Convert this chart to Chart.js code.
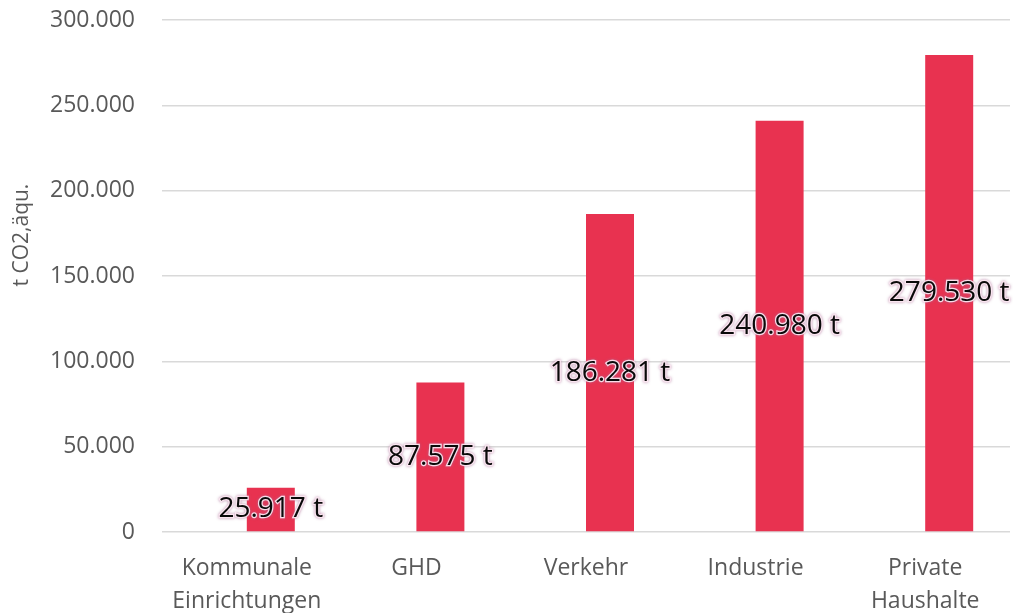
<!DOCTYPE html>
<html>
<head>
<meta charset="utf-8">
<script src="https://cdn.jsdelivr.net/npm/chart.js@4/dist/chart.umd.min.js"></script>
<style>
  html, body { margin: 0; padding: 0; background: #fff; }
  #wrap { width: 1013px; height: 613px; }
</style>
</head>
<body>
<div id="wrap"><canvas id="chart"></canvas></div>
<script>
const categories = [["Kommunale", "Einrichtungen"], "GHD", "Verkehr", "Industrie", ["Private", "Haushalte"]];
const emissions  = [25917, 87575, 186281, 240980, 279530];
// the original has an empty first series, so the bars sit right of each category centre
const emptySeries = [null, null, null, null, null];
const yTicks     = [0, 50000, 100000, 150000, 200000, 250000, 300000];
const yTitle     = "t CO2,äqu.";

const fmt = v => String(v).replace(/\B(?=(\d{3})+(?!\d))/g, ".");

const fontFam   = "'Open Sans', sans-serif";
const tickColor = "#595959";

// value labels in the middle of each bar, black with a soft halo
const valueLabels = {
  id: "valueLabels",
  afterDatasetsDraw(chart) {
    const { ctx } = chart;
    const meta = chart.getDatasetMeta(1);
    ctx.save();
    ctx.font = "28px " + fontFam;
    ctx.textAlign = "center";
    ctx.textBaseline = "middle";
    meta.data.forEach((bar, i) => {
      const txt = fmt(emissions[i]) + " t";
      const y = (bar.y + bar.base) / 2;
      ctx.shadowColor = "rgba(170,110,150,0.9)";
      ctx.shadowBlur = 3;
      ctx.lineWidth = 2.5;
      ctx.strokeStyle = "rgba(255,235,245,0.9)";
      ctx.strokeText(txt, bar.x, y);
      ctx.shadowBlur = 0;
      ctx.fillStyle = "#0a0a0a";
      ctx.fillText(txt, bar.x, y);
    });
    ctx.restore();
  }
};

// rotated y axis title, sits a bit above the axis middle like the original
const axisTitle = {
  id: "axisTitle",
  afterDraw(chart) {
    const { ctx, chartArea } = chart;
    ctx.save();
    ctx.translate(22, chartArea.top + (chartArea.bottom - chartArea.top) * 0.42);
    ctx.rotate(-Math.PI / 2);
    ctx.font = "21px " + fontFam;
    ctx.fillStyle = tickColor;
    ctx.textAlign = "center";
    ctx.textBaseline = "middle";
    ctx.fillText(yTitle, 0, 0);
    ctx.restore();
  }
};

new Chart(document.getElementById("chart"), {
  type: "bar",
  data: {
    labels: categories,
    datasets: [
      { data: emptySeries, backgroundColor: "transparent", borderWidth: 0 },
      { data: emissions, backgroundColor: "#E83250", borderWidth: 0 }
    ]
  },
  options: {
    responsive: true,
    maintainAspectRatio: false,
    animation: false,
    datasets: { bar: { categoryPercentage: 0.566, barPercentage: 1 } },
    layout: { padding: { top: 20, right: 3, left: 0, bottom: 0 } },
    plugins: { legend: { display: false }, tooltip: { enabled: false } },
    scales: {
      x: {
        afterFit: s => { s.height = 81; s.paddingLeft = 0; s.paddingRight = 0; s.paddingTop = 0; s.paddingBottom = 0; },
        grid: { display: false },
        border: { display: false },
        ticks: {
          color: tickColor, font: { size: 23, family: fontFam, lineHeight: 1.42 },
          maxRotation: 0, padding: 12, autoSkip: false
        }
      },
      y: {
        min: 0, max: 300000,
        afterBuildTicks: axis => { axis.ticks = yTicks.map(v => ({ value: v })); },
        afterFit: s => { s.width = 162; s.paddingTop = 0; s.paddingBottom = 0; },
        grid: { color: "#d9d9d9", lineWidth: 1.5, drawTicks: false },
        border: { display: false },
        ticks: { color: tickColor, font: { size: 23, family: fontFam }, padding: 27, callback: v => fmt(v) }
      }
    }
  },
  plugins: [valueLabels, axisTitle]
});
</script>
</body>
</html>
